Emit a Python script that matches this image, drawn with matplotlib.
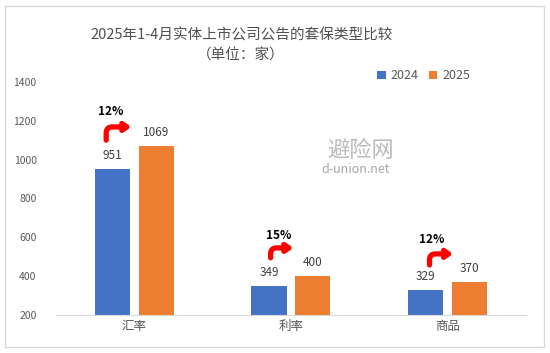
import numpy as np
import matplotlib.pyplot as plt
from matplotlib.patches import Rectangle

plt.rcParams['font.family'] = ['Noto Sans CJK SC', 'DejaVu Sans']

categories = ['汇率', '利率', '商品']
v2024 = [951, 349, 329]
v2025 = [1069, 400, 370]
growth = ['12%', '15%', '12%']

# arrow / label placement (offset from category centre, value coords)
arrow_x0 = [-0.18, -0.13, -0.115]
arrow_x1 = [-0.02, 0.015, 0.035]
arrow_y0 = [1100, 494, 457]
arrow_y1 = [1168, 545, 514]
label_x = [-0.15, -0.08, -0.10]
label_y = [1245, 607, 586]

blue = '#4472C4'
orange = '#ED7D31'
grey = '#595959'

fig = plt.figure(figsize=(5.5, 3.53), dpi=100)
fig.patches.append(Rectangle((5 / 550, 6 / 353), 539 / 550, 341 / 353,
                             transform=fig.transFigure, fill=False,
                             edgecolor='#D9D9D9', lw=1))
ax = fig.add_axes([0.102, 0.108, 0.854, 0.66])

x = np.arange(len(categories))
w = 0.225
b1 = ax.bar(x - 0.14, np.array(v2024) - 200, w, bottom=200, color=blue, label='2024')
b2 = ax.bar(x + 0.14, np.array(v2025) - 200, w, bottom=200, color=orange, label='2025')

for i in range(len(categories)):
    ax.text(x[i] - 0.14, v2024[i] + 35, str(v2024[i]), ha='center', va='bottom',
            fontsize=8.5, color='#404040')
    ax.text(x[i] + 0.14, v2025[i] + 35, str(v2025[i]), ha='center', va='bottom',
            fontsize=8.5, color='#404040')
    ax.annotate('', xy=(x[i] + arrow_x1[i], arrow_y1[i]),
                xytext=(x[i] + arrow_x0[i], arrow_y0[i]),
                arrowprops=dict(arrowstyle='-|>,head_length=0.35,head_width=0.25',
                                color='red', lw=3.8,
                                connectionstyle='angle,angleA=90,angleB=0,rad=6',
                                shrinkA=0, shrinkB=0))
    ax.text(x[i] + label_x[i], label_y[i], growth[i], ha='center', va='center',
            fontsize=8.5, fontweight='bold', color='black')

ax.set_ylim(200, 1400)
ax.set_yticks(range(200, 1401, 200))
ax.set_xlim(-0.5, 2.5)
ax.set_xticks(x)
ax.set_xticklabels(categories, fontsize=9, color=grey)
ax.tick_params(axis='y', length=0, labelsize=7.5, labelcolor=grey, pad=14)
ax.tick_params(axis='x', length=0, pad=4)
for s in ['top', 'right', 'left']:
    ax.spines[s].set_visible(False)
ax.spines['bottom'].set_color('#D9D9D9')

# watermark
fig.text(0.595, 0.575, '避险网', fontsize=16, color='#BBBBBB', ha='left', va='center',
         style='italic')
fig.text(0.585, 0.52, 'd-union.net', fontsize=9, color='#A6A6A6', ha='left', va='center')

fig.text(0.44, 0.9, '2025年1-4月实体上市公司公告的套保类型比较', ha='center', va='center',
         fontsize=10.5, color='#505050', fontweight='medium')
fig.text(0.437, 0.842, '（单位：家）', ha='center', va='center', fontsize=10.5,
         color='#505050')

fig.legend(handles=[b1, b2], loc='center', bbox_to_anchor=(0.77, 0.785), ncol=2,
           frameon=False, fontsize=9, labelcolor=grey, handlelength=0.7,
           handleheight=0.7, columnspacing=0.8, handletextpad=0.4)

fig.savefig('out.png', dpi=100)
